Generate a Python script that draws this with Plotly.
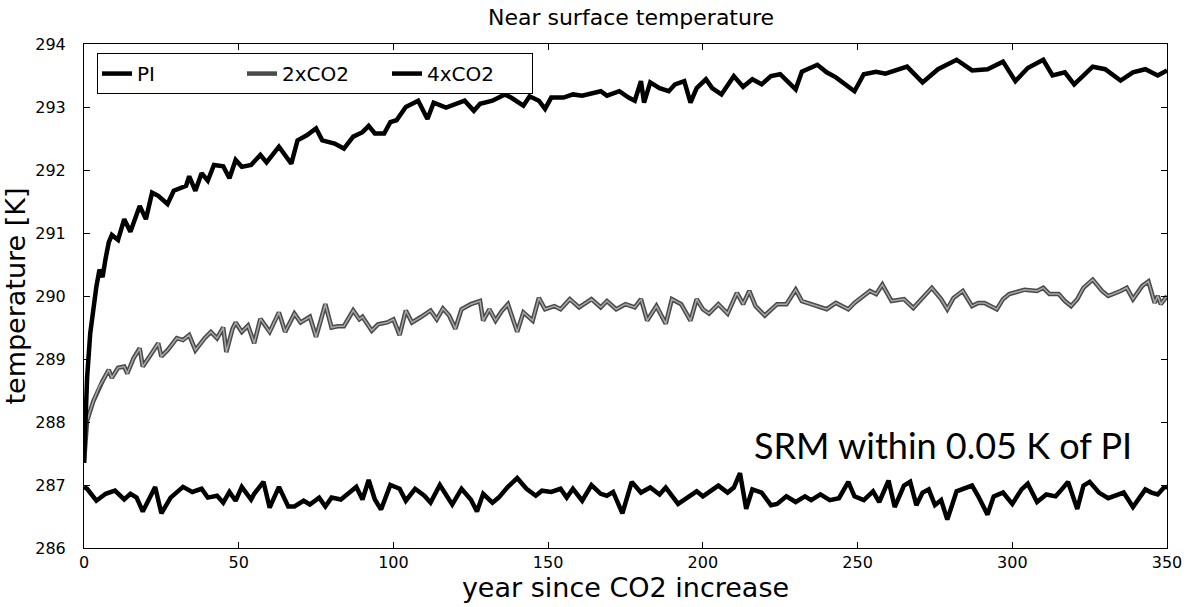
import plotly.graph_objects as go

# ---------------- data ----------------
pi_years = [0, 1, 4, 7, 10, 13, 15, 17, 19, 23, 25, 28, 32, 35, 38, 40, 43, 45, 47, 49, 51, 54, 55, 58, 60,
            63, 66, 68, 71, 73, 76, 78, 80, 83, 86, 88, 90, 92, 94, 96, 99, 102, 104, 107, 110, 112, 115,
            118, 119, 122, 125, 127, 129, 132, 134, 137, 140, 143, 146, 148, 151, 154, 156, 158, 161, 164,
            167, 169, 171, 174, 177, 180, 183, 186, 188, 192, 195, 198, 200, 203, 205, 208, 210, 212, 214,
            216, 219, 222, 224, 227, 230, 233, 235, 238, 241, 244, 247, 249, 252, 255, 257, 260, 262, 265,
            267, 269, 271, 273, 275, 277, 279, 282, 284, 287, 289, 292, 294, 297, 300, 303, 305, 308, 311,
            314, 316, 318, 321, 323, 325, 328, 331, 333, 336, 339, 343, 345, 347, 349, 350]
pi_temp = [286.97, 286.94, 286.75, 286.86, 286.91, 286.77, 286.86, 286.80, 286.58, 286.97, 286.55, 286.80,
           286.97, 286.89, 286.94, 286.80, 286.83, 286.72, 286.89, 286.75, 286.97, 286.77, 286.86, 287.05,
           286.64, 286.97, 286.66, 286.66, 286.75, 286.69, 286.80, 286.66, 286.80, 286.77, 286.89, 286.97,
           286.77, 287.08, 286.77, 286.61, 287.00, 286.94, 286.75, 286.94, 286.83, 286.72, 287.00, 286.77,
           286.69, 286.94, 286.77, 286.58, 286.86, 286.72, 286.80, 286.97, 287.11, 286.94, 286.83, 286.91,
           286.89, 286.94, 286.80, 286.94, 286.75, 287.00, 286.86, 286.83, 286.89, 286.55, 287.05, 286.88,
           286.96, 286.85, 286.96, 286.70, 286.79, 286.90, 286.82, 286.93, 286.99, 286.88, 286.96, 287.19,
           286.62, 286.93, 286.88, 286.68, 286.70, 286.82, 286.73, 286.82, 286.76, 286.85, 286.76, 286.79,
           287.05, 286.82, 286.76, 286.90, 286.73, 287.07, 286.65, 286.99, 287.05, 286.68, 286.88, 286.93,
           286.68, 286.76, 286.45, 286.90, 286.93, 286.99, 286.82, 286.53, 286.82, 286.88, 286.70, 286.93,
           287.02, 286.73, 286.85, 286.82, 286.93, 287.05, 286.62, 286.99, 287.05, 286.88, 286.79, 286.82,
           286.88, 286.65, 286.93, 286.88, 286.85, 286.96, 286.97]

co2x2_years = [0, 1, 3, 5, 6, 8, 9, 11, 13, 14, 16, 18, 19, 22, 24, 25, 27, 30, 32, 34, 36, 39, 41, 43, 45,
               46, 48, 49, 51, 53, 55, 57, 60, 63, 65, 68, 70, 73, 75, 78, 80, 82, 84, 87, 89, 90, 93, 95,
               98, 100, 102, 104, 106, 109, 112, 114, 116, 118, 120, 122, 125, 128, 129, 131, 133, 135, 137,
               140, 142, 145, 147, 149, 152, 154, 157, 160, 164, 167, 169, 172, 175, 178, 180, 182, 185, 188,
               190, 193, 196, 198, 200, 202, 205, 208, 211, 213, 215, 217, 220, 224, 227, 230, 232, 235, 240,
               243, 247, 249, 254, 256, 258, 261, 265, 268, 274, 277, 279, 281, 284, 287, 289, 291, 295, 297,
               299, 304, 308, 310, 312, 315, 317, 319, 321, 323, 326, 329, 331, 335, 337, 339, 342, 344, 346,
               347, 348, 350]
co2x2_temp = [287.35, 288.02, 288.33, 288.57, 288.65, 288.83, 288.70, 288.86, 288.88, 288.77, 289.01, 289.17,
              288.88, 289.10, 289.25, 289.04, 289.14, 289.33, 289.30, 289.38, 289.14, 289.33, 289.43, 289.33,
              289.50, 289.11, 289.48, 289.58, 289.43, 289.53, 289.25, 289.64, 289.43, 289.74, 289.43, 289.72,
              289.58, 289.67, 289.35, 289.87, 289.50, 289.52, 289.52, 289.77, 289.63, 289.67, 289.45, 289.55,
              289.58, 289.63, 289.38, 289.77, 289.58, 289.67, 289.77, 289.63, 289.80, 289.69, 289.48, 289.79,
              289.87, 289.92, 289.61, 289.79, 289.61, 289.76, 289.87, 289.43, 289.74, 289.61, 289.97, 289.79,
              289.84, 289.79, 289.95, 289.82, 289.95, 289.82, 289.92, 289.79, 289.87, 289.82, 289.95, 289.61,
              289.84, 289.56, 289.95, 289.87, 289.61, 289.95, 289.79, 289.72, 289.87, 289.72, 290.05, 289.87,
              290.08, 289.84, 289.69, 289.87, 289.87, 290.10, 289.92, 289.87, 289.79, 289.89, 289.79, 289.89,
              290.08, 290.03, 290.18, 289.92, 289.95, 289.81, 290.13, 289.95, 289.79, 289.97, 290.08, 289.84,
              289.89, 289.89, 289.79, 289.95, 290.03, 290.10, 290.08, 290.13, 290.03, 290.03, 289.92, 289.84,
              289.95, 290.13, 290.26, 290.08, 290.00, 290.08, 290.13, 289.95, 290.16, 290.23, 289.89, 290.00,
              289.87, 290.00]

co2x4_years = [0, 1, 2, 3, 4, 5, 6, 7, 8, 9, 11, 13, 15, 18, 20, 22, 24, 27, 29, 33, 34, 36, 38, 40, 42, 45,
               47, 49, 51, 54, 57, 59, 63, 67, 69, 72, 75, 77, 81, 84, 87, 90, 92, 94, 97, 99, 101, 104, 108,
               111, 113, 117, 120, 123, 126, 128, 132, 136, 138, 142, 144, 147, 149, 151, 155, 158, 161, 164,
               167, 169, 173, 176, 178, 180, 181, 183, 186, 189, 191, 194, 196, 198, 201, 203, 206, 210, 213,
               216, 219, 222, 225, 230, 232, 237, 240, 243, 249, 252, 256, 259, 262, 266, 271, 276, 282, 287,
               292, 297, 301, 305, 310, 313, 317, 320, 326, 330, 335, 339, 343, 347, 350]
co2x4_temp = [287.35, 288.70, 289.40, 289.80, 290.15, 290.42, 290.30, 290.60, 290.85, 290.97, 290.89, 291.22,
              291.02, 291.43, 291.22, 291.64, 291.59, 291.46, 291.67, 291.75, 291.90, 291.67, 291.95, 291.83,
              292.08, 292.06, 291.87, 292.16, 292.05, 292.08, 292.24, 292.12, 292.37, 292.10, 292.47, 292.55,
              292.66, 292.47, 292.42, 292.34, 292.53, 292.60, 292.70, 292.58, 292.58, 292.76, 292.79, 293.00,
              293.10, 292.81, 293.07, 292.99, 293.05, 293.10, 292.94, 293.05, 293.10, 293.20, 293.15, 293.02,
              293.17, 293.10, 292.97, 293.15, 293.15, 293.20, 293.18, 293.22, 293.25, 293.18, 293.25, 293.15,
              293.10, 293.41, 293.07, 293.39, 293.30, 293.25, 293.36, 293.41, 293.07, 293.30, 293.44, 293.30,
              293.20, 293.49, 293.32, 293.44, 293.36, 293.49, 293.52, 293.28, 293.56, 293.67, 293.55, 293.47,
              293.25, 293.52, 293.56, 293.53, 293.58, 293.64, 293.39, 293.60, 293.75, 293.58, 293.60, 293.72,
              293.41, 293.62, 293.75, 293.50, 293.55, 293.36, 293.64, 293.60, 293.42, 293.55, 293.60, 293.50,
              293.58]

x_ticks = [0, 50, 100, 150, 200, 250, 300, 350]
y_ticks = [286, 287, 288, 289, 290, 291, 292, 293, 294]

FONT = "DejaVu Sans"

fig = go.Figure()

fig.add_trace(go.Scatter(x=pi_years, y=pi_temp, mode="lines", name="PI",
                         line=dict(color="#000000", width=4.5)))
fig.add_trace(go.Scatter(x=co2x2_years, y=co2x2_temp, mode="lines", name="2xCO2",
                         legendgroup="2x", line=dict(color="#4a4a4a", width=4.5)))
fig.add_trace(go.Scatter(x=co2x2_years, y=co2x2_temp, mode="lines", name="2xCO2",
                         legendgroup="2x", showlegend=False, hoverinfo="skip",
                         line=dict(color="#a8a8a8", width=1.5)))
fig.add_trace(go.Scatter(x=co2x4_years, y=co2x4_temp, mode="lines", name="4xCO2",
                         line=dict(color="#000000", width=4.5)))

fig.add_annotation(x=277.5, y=287.63, xref="x", yref="y", text="SRM within 0.05 K of PI",
                   showarrow=False, xanchor="center", yanchor="middle",
                   font=dict(family="Lato", size=36, color="#000000"))

fig.update_layout(
    width=1194, height=607,
    margin=dict(l=84, r=16, t=44, b=50),
    paper_bgcolor="white", plot_bgcolor="white",
    font=dict(family=FONT, color="#000000"),
    title=dict(text="Near surface temperature", x=(84 + 1178) / 2 / 1194, xanchor="center",
               y=1 - 17 / 607, yanchor="middle", yref="container",
               font=dict(family=FONT, size=22, color="#000000")),
    showlegend=True,
    legend=dict(orientation="h", x=0.012, y=0.982, xanchor="left", yanchor="top",
                bordercolor="#000000", borderwidth=1, bgcolor="white",
                font=dict(family=FONT, size=20, color="#000000"),
                entrywidth=100, entrywidthmode="pixels"),
)

fig.update_xaxes(range=[0, 350], tickvals=x_ticks, ticktext=[str(v) for v in x_ticks],
                 showgrid=False, zeroline=False, showline=True, linecolor="#000000", linewidth=1,
                 mirror="ticks", ticks="inside", ticklen=6, tickcolor="#000000",
                 tickfont=dict(family=FONT, size=16, color="#000000"),
                 title=dict(text="year since CO2 increase", standoff=4,
                            font=dict(family=FONT, size=27, color="#000000")))
fig.update_yaxes(range=[286, 294], tickvals=y_ticks, ticktext=[str(v) for v in y_ticks],
                 showgrid=False, zeroline=False, showline=True, linecolor="#000000", linewidth=1,
                 mirror="ticks", ticks="inside", ticklen=6, tickcolor="#000000",
                 ticklabelstandoff=14,
                 tickfont=dict(family=FONT, size=16, color="#000000"),
                 title=dict(text="temperature [K]", standoff=4,
                            font=dict(family=FONT, size=27, color="#000000")))

fig.write_html("out.html")
